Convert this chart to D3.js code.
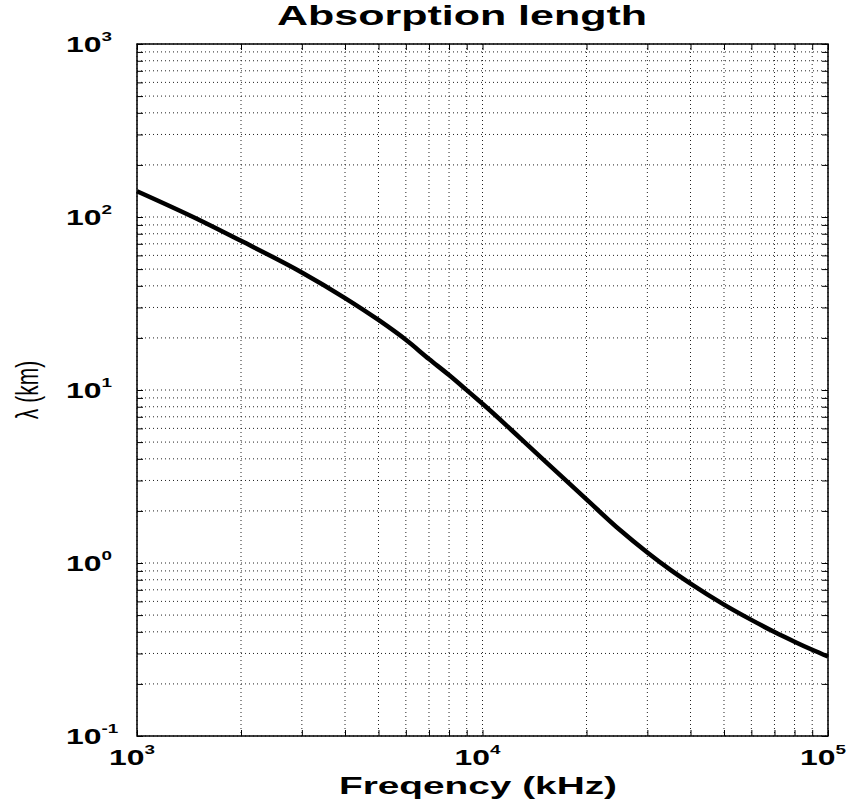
<!DOCTYPE html>
<html>
<head>
<meta charset="utf-8">
<script src="https://cdn.jsdelivr.net/npm/d3@7"></script>
<style>
  body { margin: 0; background: #fff; }
  text { font-family: "Liberation Sans", Arial, sans-serif; }
</style>
</head>
<body>
<div id="graph"></div>
<script>
// absorption length vs frequency
var freq = [1000, 1500, 2000, 3000, 4000, 5000, 6000, 7000, 8000, 9000, 10000,
            15000, 20000, 25000, 30000, 35000, 40000, 50000, 60000, 70000, 80000, 90000, 100000];
var lambda = [141, 97.1, 72.8, 47.8, 34.0, 25.4, 19.5, 15.1, 12.2, 9.98, 8.32,
              3.96, 2.33, 1.55, 1.15, 0.912, 0.76, 0.575, 0.469, 0.399, 0.351, 0.315, 0.288];
var xExps = [3, 4, 5];
var yExps = [-1, 0, 1, 2, 3];

var w = 854, h = 799;
// plot box (don't call it "top", that's window.top)
var pL = 137, pR = 828, pT = 44, pB = 736;
var sx = 1.45; // the picture's text is stretched sideways

var vis = d3.select("#graph").append("svg")
  .attr("width", w).attr("height", h);

var x = d3.scaleLog().domain([1e3, 1e5]).range([pL, pR]);
var y = d3.scaleLog().domain([0.1, 1e3]).range([pB, pT]);

// dotted grid, every 1..9 multiple
vis.append("g").selectAll("line")
  .data(x.ticks())
  .enter().append("line")
  .attr("x1", d => x(d)).attr("x2", d => x(d))
  .attr("y1", pT).attr("y2", pB)
  .attr("stroke", "#222").attr("stroke-width", 1)
  .attr("stroke-dasharray", "1,3");

vis.append("g").selectAll("line")
  .data(y.ticks())
  .enter().append("line")
  .attr("y1", d => y(d)).attr("y2", d => y(d))
  .attr("x1", pL).attr("x2", pR)
  .attr("stroke", "#222").attr("stroke-width", 1)
  .attr("stroke-dasharray", "1,3");

// inward ticks on all four sides
function ticks(axis, tr) {
  var g = vis.append("g").attr("transform", tr).call(axis);
  g.select(".domain").remove();
  g.selectAll("text").remove();
  g.selectAll("line").attr("stroke", "#000");
}
ticks(d3.axisBottom(x).tickSize(-6), "translate(0," + pB + ")");
ticks(d3.axisTop(x).tickSize(-6), "translate(0," + pT + ")");
ticks(d3.axisLeft(y).tickSize(-6), "translate(" + pL + ",0)");
ticks(d3.axisRight(y).tickSize(-6), "translate(" + pR + ",0)");

vis.append("rect")
  .attr("x", pL).attr("y", pT)
  .attr("width", pR - pL).attr("height", pB - pT)
  .attr("fill", "none").attr("stroke", "#000").attr("stroke-width", 1.5);

// the curve
var line = d3.line()
  .x((d, i) => x(freq[i]))
  .y(d => y(d))
  .curve(d3.curveMonotoneX);

vis.append("path")
  .attr("d", line(lambda))
  .attr("fill", "none")
  .attr("stroke", "#000")
  .attr("stroke-width", 4.5)
  .attr("stroke-linejoin", "round");

// power-of-ten labels
function powLabel(px, py, e) {
  var t = vis.append("text")
    .attr("transform", "translate(" + px + "," + py + ") scale(" + sx + ",1)")
    .attr("font-size", 22).attr("font-weight", "bold");
  t.append("tspan").text("10");
  t.append("tspan").attr("dy", -11).attr("font-size", 13).text(e);
}

xExps.forEach(e => powLabel(x(Math.pow(10, e)) - 28, 765, e));
yExps.forEach(e => powLabel(66, y(Math.pow(10, e)) + 8, e));

vis.append("text")
  .attr("x", 277).attr("y", 25)
  .attr("font-size", 28).attr("font-weight", "bold")
  .attr("textLength", 370).attr("lengthAdjust", "spacingAndGlyphs")
  .text("Absorption length");

vis.append("text")
  .attr("x", 339).attr("y", 794)
  .attr("font-size", 24).attr("font-weight", "bold")
  .attr("textLength", 278).attr("lengthAdjust", "spacingAndGlyphs")
  .text("Freqency (kHz)");

vis.append("text")
  .attr("transform", "translate(38,390) scale(1.45,1) rotate(-90)")
  .attr("text-anchor", "middle")
  .attr("font-size", 21)
  .text("λ (km)");
</script>
</body>
</html>
